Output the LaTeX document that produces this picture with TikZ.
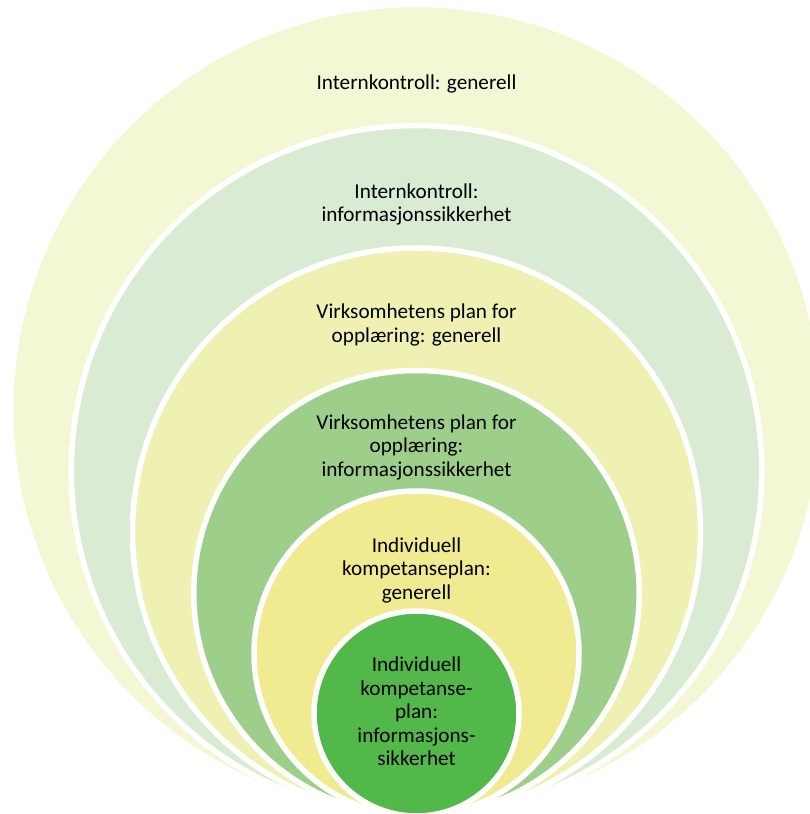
\documentclass[tikz,border=0pt]{standalone}
\usepackage{fontspec}
\setmainfont{Carlito}
\usepackage{tikz}
\definecolor{lvlA}{HTML}{F4F7D3}
\definecolor{lvlB}{HTML}{DAEBD4}
\definecolor{lvlC}{HTML}{EFF1B3}
\definecolor{lvlD}{HTML}{9DCF8A}
\definecolor{lvlE}{HTML}{F0EB90}
\definecolor{lvlF}{HTML}{52B84A}
\tikzstyle{ring}=[circle,draw=white,line width=5.5pt,inner sep=0pt]
\tikzstyle{lbl}=[align=center,inner sep=0pt,font=\fontsize{21.2}{23.5}\selectfont]

\begin{document}
\begin{tikzpicture}[x=1pt,y=1pt]
			\useasboundingbox (0,0) rectangle (810,814);
			\clip (0,0) rectangle (810,814);
			% rings, largest first, all resting on the same bottom point
			\node[ring,fill=lvlA,minimum size=811.5pt] (ringA) at (416.5,403.75) {};
			\node[ring,fill=lvlB,minimum size=690.5pt] (ringB) at (416.5,343.25) {};
			\node[ring,fill=lvlC,minimum size=568pt] (ringC) at (416.5,282) {};
			\node[ring,fill=lvlD,minimum size=445.5pt] (ringD) at (416.5,220.75) {};
			\node[ring,fill=lvlE,minimum size=325pt] (ringE) at (416.5,160.5) {};
			\node[ring,fill=lvlF,minimum size=205pt] (ringF) at (416.5,100.5) {};
			% labels
			\node[lbl] (txtA) at (416.5,730) {Internkontroll: generell};
			\node[lbl] (txtB) at (416.5,609.5) {Internkontroll:\\informasjonssikkerhet};
			\node[lbl] (txtC) at (416.5,489) {Virksomhetens plan for\\opplæring: generell};
			\node[lbl] (txtD) at (416.5,367) {Virksomhetens plan for\\opplæring:\\informasjonssikkerhet};
			\node[lbl] (txtE) at (416.5,244) {Individuell\\kompetanseplan:\\generell};
			\node[lbl] (txtF) at (416.5,102.5) {Individuell\\kompetanse-\\plan:\\informasjons-\\sikkerhet};
		\end{tikzpicture}
\end{document}
